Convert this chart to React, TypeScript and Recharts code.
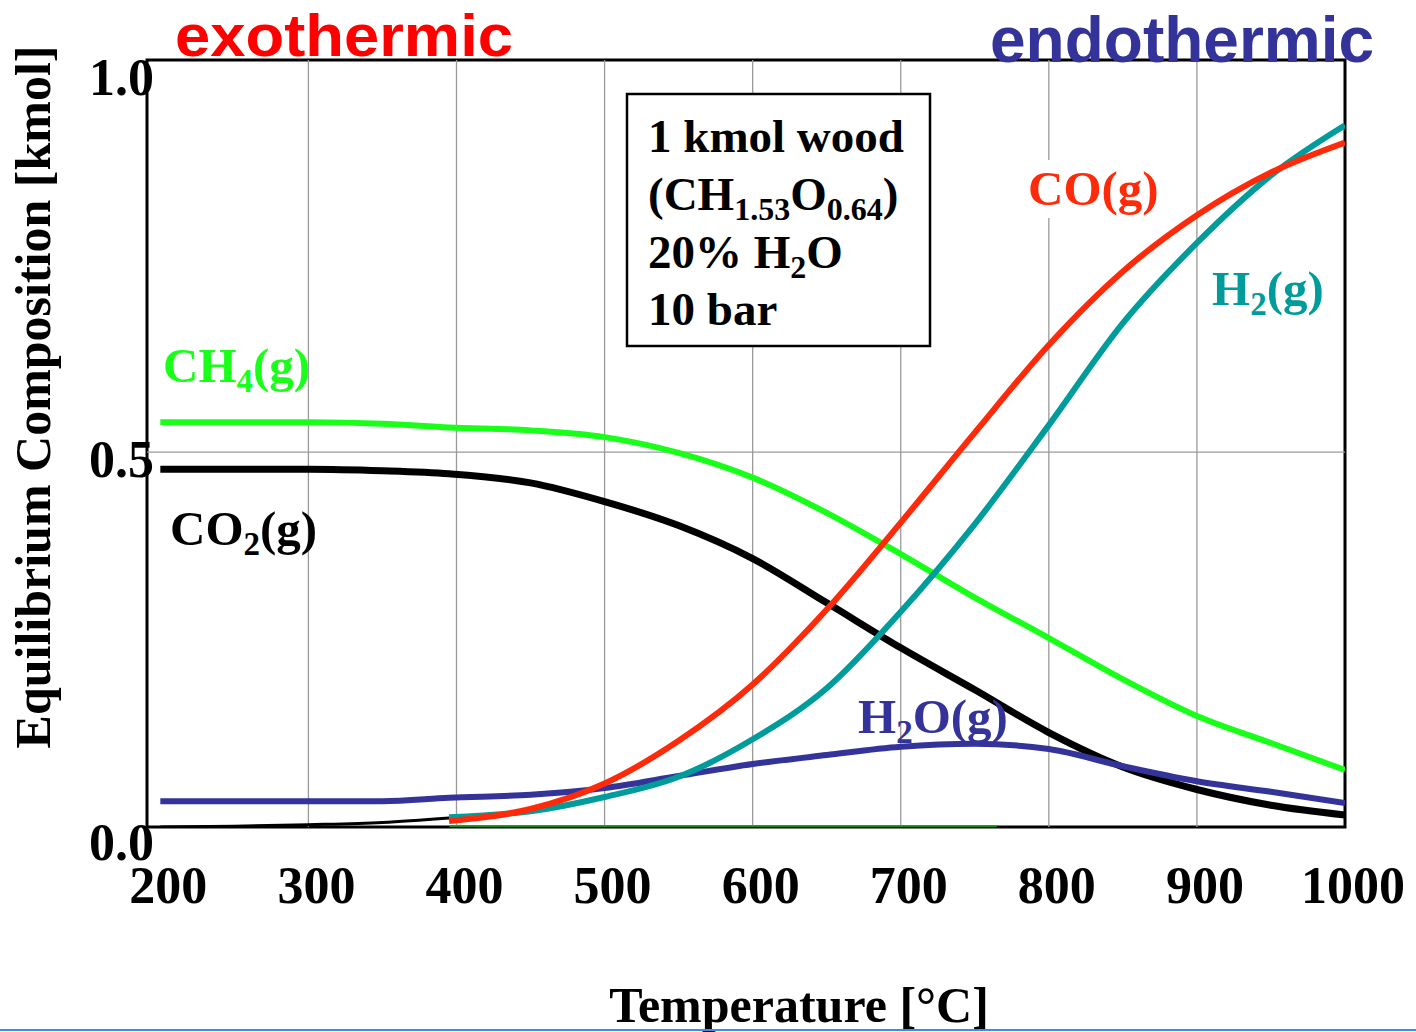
import React from 'react';
import { LineChart, Line, XAxis, YAxis, ReferenceLine, ReferenceArea } from 'recharts';

const temps = [200, 250, 300, 350, 395, 450, 500, 550, 600, 650, 700, 750, 800, 850, 900, 950, 1000];
const ch4 = [0.54, 0.54, 0.54, 0.538, 0.533, 0.529, 0.52, 0.499, 0.466, 0.419, 0.364, 0.306, 0.252, 0.197, 0.148, 0.112, 0.076];
const co2 = [0.477, 0.477, 0.477, 0.475, 0.471, 0.459, 0.434, 0.402, 0.358, 0.299, 0.239, 0.183, 0.126, 0.08, 0.05, 0.029, 0.016];
const co = [null, null, null, null, 0.008, 0.024, 0.058, 0.115, 0.19, 0.29, 0.406, 0.526, 0.643, 0.741, 0.816, 0.873, 0.913];
const h2 = [null, null, null, null, 0.013, 0.021, 0.04, 0.067, 0.117, 0.185, 0.287, 0.404, 0.536, 0.672, 0.779, 0.869, 0.936];
const h2o = [0.0345, 0.0345, 0.0345, 0.0345, 0.039, 0.043, 0.052, 0.068, 0.084, 0.096, 0.107, 0.111, 0.104, 0.081, 0.061, 0.047, 0.032];

const lowTemps = [200, 250, 300, 350, 395];
const lowVals = [0, 0.001, 0.003, 0.006, 0.012];
const zeroTemps = [395, 765];
const zeroVals = [0, 0];

const xTicks = [200, 300, 400, 500, 600, 700, 800, 900, 1000];
const yTicks = [0, 0.5, 1.0];
const gridX = [300, 400, 500, 600, 700, 800, 900];
const gridY = [0.5];

const data = temps.map((t, i) => ({ t, ch4: ch4[i], co2: co2[i], co: co[i], h2: h2[i], h2o: h2o[i] }));
const lowData = lowTemps.map((t, i) => ({ t, v: lowVals[i] }));
const zeroData = zeroTemps.map((t, i) => ({ t, v: zeroVals[i] }));

const SERIF = '"Liberation Serif", "Times New Roman", serif';
const SANS = '"Liberation Sans", Arial, sans-serif';

const C_CH4 = '#1aff1a';
const C_CO = '#ff2a0a';
const C_H2 = '#009c9c';
const C_H2O = '#333399';

const XTick = (props: any) => {
  const { x, payload } = props;
  return (
    <text x={x + 8} y={903} textAnchor="middle" fontFamily={SERIF} fontWeight="bold" fontSize={52} fill="#000">
      {payload.value}
    </text>
  );
};

const yOff: Record<string, number> = { '0': 33, '0.5': 25, '1': 18 };
const YTick = (props: any) => {
  const { y, payload } = props;
  const off = yOff[String(payload.value)] ?? 20;
  return (
    <text x={154} y={y + off} textAnchor="end" fontFamily={SERIF} fontWeight="bold" fontSize={52} fill="#000">
      {Number(payload.value).toFixed(1)}
    </text>
  );
};

export default function App() {
  return (
    <div style={{ position: 'absolute', left: 0, top: 0, width: 1416, height: 1032, background: '#fff' }}>
      <LineChart width={1416} height={1032} margin={{ top: 60, right: 71, left: 87, bottom: 145 }}>
        <XAxis
          dataKey="t"
          type="number"
          domain={[191, 1000]}
          ticks={xTicks}
          allowDataOverflow
          height={60}
          axisLine={false}
          tickLine={false}
          tick={<XTick />}
        />
        <YAxis
          type="number"
          domain={[0, 1.023]}
          ticks={yTicks}
          allowDataOverflow
          width={60}
          axisLine={false}
          tickLine={false}
          tick={<YTick />}
        />
        {gridX.map((v) => (
          <ReferenceLine key={'gx' + v} x={v} stroke="#9a9a9a" strokeWidth={1.3} />
        ))}
        {gridY.map((v) => (
          <ReferenceLine key={'gy' + v} y={v} stroke="#9a9a9a" strokeWidth={1.3} />
        ))}
        <Line data={zeroData} dataKey="v" type="linear" stroke="#118811" strokeWidth={3} dot={false} isAnimationActive={false} />
        <Line data={lowData} dataKey="v" type="monotone" stroke="#000" strokeWidth={3} dot={false} isAnimationActive={false} />
        <Line data={data} dataKey="ch4" type="monotone" stroke={C_CH4} strokeWidth={6} dot={false} isAnimationActive={false} />
        <Line data={data} dataKey="co2" type="monotone" stroke="#000" strokeWidth={7} dot={false} isAnimationActive={false} />
        <Line data={data} dataKey="h2o" type="monotone" stroke={C_H2O} strokeWidth={6} dot={false} isAnimationActive={false} />
        <Line data={data} dataKey="h2" type="monotone" stroke={C_H2} strokeWidth={6} dot={false} isAnimationActive={false} />
        <Line data={data} dataKey="co" type="monotone" stroke={C_CO} strokeWidth={6} dot={false} isAnimationActive={false} />
        <ReferenceArea x1={191} x2={1000} y1={0} y2={1.023} fill="none" stroke="#000" strokeWidth={3} ifOverflow="visible" />
      </LineChart>
      <svg
        width={1416}
        height={1032}
        style={{ position: 'absolute', left: 0, top: 0, pointerEvents: 'none' }}
      >
        <text x={175} y={56} fontFamily={SANS} fontWeight="bold" fontSize={60} textLength={338} lengthAdjust="spacingAndGlyphs" fill="#ff0000">exothermic</text>
        <text x={990} y={62} fontFamily={SANS} fontWeight="bold" fontSize={64} fill="#333399">endothermic</text>

        <rect x={627} y={94} width={303} height={252} fill="#fff" stroke="#000" strokeWidth={2.5} />
        <g fontFamily={SERIF} fontWeight="bold" fontSize={47} fill="#000">
          <text x={648} y={152}>1 kmol wood</text>
          <text x={648} y={210}>
            (CH<tspan fontSize={32} dy={10}>1.53</tspan>
            <tspan dy={-10}>O</tspan>
            <tspan fontSize={32} dy={10}>0.64</tspan>
            <tspan dy={-10}>)</tspan>
          </text>
          <text x={648} y={268}>
            20% H<tspan fontSize={32} dy={10}>2</tspan>
            <tspan dy={-10}>O</tspan>
          </text>
          <text x={648} y={325}>10 bar</text>
        </g>

        <g fontFamily={SERIF} fontWeight="bold" fontSize={49}>
          <rect x={1024} y={160} width={140} height={58} fill="#fff" />
          <text x={1028} y={205} fill={C_CO}>CO(g)</text>
          <text x={1212} y={305} fill={C_H2}>
            H<tspan fontSize={33} dy={10}>2</tspan>
            <tspan dy={-10}>(g)</tspan>
          </text>
          <text x={163} y={382} fill={C_CH4}>
            CH<tspan fontSize={33} dy={10}>4</tspan>
            <tspan dy={-10}>(g)</tspan>
          </text>
          <text x={170} y={545} fill="#000">
            CO<tspan fontSize={33} dy={10}>2</tspan>
            <tspan dy={-10}>(g)</tspan>
          </text>
          <text x={858} y={733} fill={C_H2O}>
            H<tspan fontSize={33} dy={10}>2</tspan>
            <tspan dy={-10}>O(g)</tspan>
          </text>
        </g>

        <text
          x={0}
          y={0}
          transform="translate(50, 397) rotate(-90)"
          textAnchor="middle"
          fontFamily={SERIF}
          fontWeight="bold"
          fontSize={50}
          fill="#000"
        >
          Equilibrium Composition [kmol]
        </text>
        <text x={799} y={1022} textAnchor="middle" fontFamily={SERIF} fontWeight="bold" fontSize={50} fill="#000">
          Temperature [°C]
        </text>
        <line x1={0} y1={1030} x2={1416} y2={1030} stroke="#3a8ee6" strokeWidth={2} />
      </svg>
    </div>
  );
}
